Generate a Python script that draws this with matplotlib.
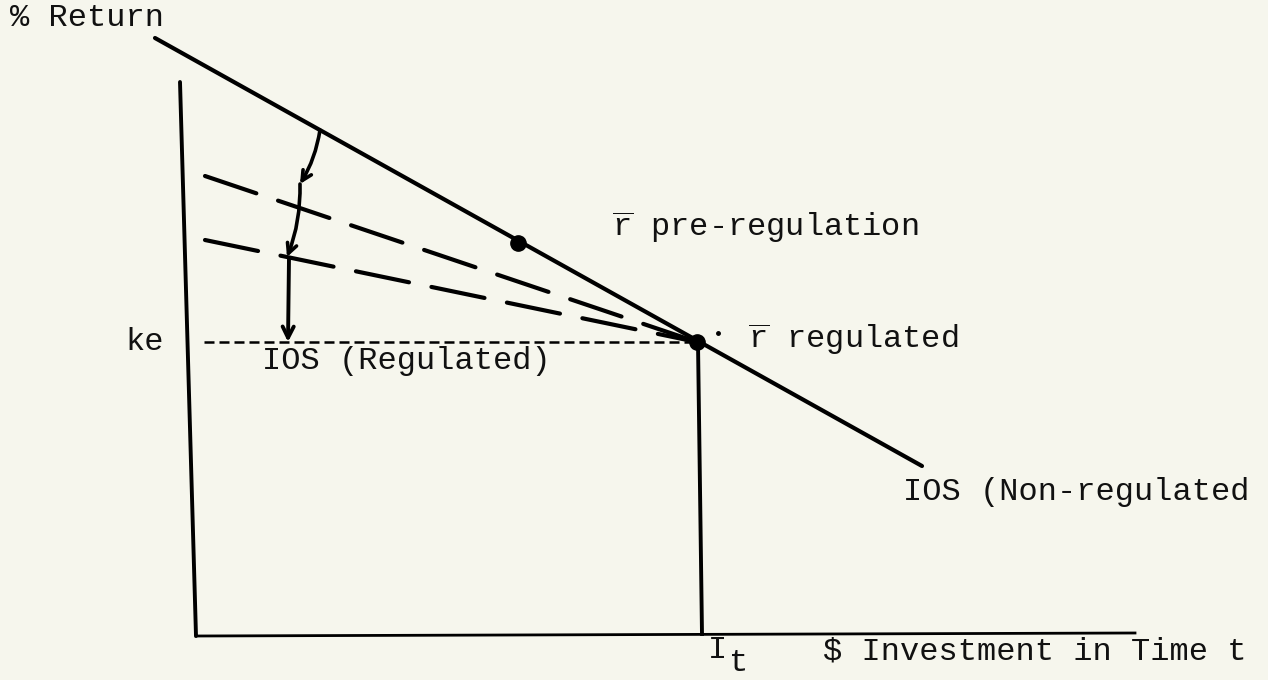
import matplotlib
matplotlib.use("Agg")
import matplotlib.pyplot as plt

plt.rcParams['mathtext.fontset'] = 'custom'
plt.rcParams['mathtext.rm'] = 'Liberation Mono'
plt.rcParams['mathtext.it'] = 'Liberation Mono'
FONT = 'Liberation Mono'

# ---- diagram data (drawing units, y grows downward) ----
y_axis_x = [180, 196]
y_axis_y = [82, 636]
x_axis_x = [196, 1135]
x_axis_y = [636, 633]

ios_nonreg_x = [155, 922]
ios_nonreg_y = [38, 466]

dash_upper_x = [205, 697]
dash_upper_y = [176, 342]
dash_lower_x = [205, 697]
dash_lower_y = [240, 342]

ke_x = [204, 697]
ke_y = [342, 342]

it_x = [698, 702]
it_y = [343, 634]

pre_reg_pt = (518, 243)
reg_pt = (697, 342)
small_dot = (718, 333)

curve_pts = [(320, 130), (300, 184), (287, 257)]
drop_pts = [(289, 258), (288, 342)]

labels = [
    ("% Return", 10, 18),
    (r"$\overline{\mathrm{r}}$ pre-regulation", 612, 227),
    ("ke", 125, 342),
    ("IOS (Regulated)", 262, 361),
    (r"$\overline{\mathrm{r}}$ regulated", 748, 339),
    ("IOS (Non-regulated", 903, 492),
    ("I", 708, 650),
    ("$ Investment in Time t", 823, 651),
]
sub_label = ("t", 729, 663)

fig = plt.figure(figsize=(12.68, 6.80), dpi=100)
bg = '#f6f6ed'
fig.patch.set_facecolor(bg)
ax = fig.add_axes([0, 0, 1, 1])
ax.set_facecolor(bg)
ax.set_xlim(0, 1268)
ax.set_ylim(680, 0)
ax.axis('off')

k = 'black'
ax.plot(y_axis_x, y_axis_y, color=k, lw=2.8, solid_capstyle='round')
ax.plot(x_axis_x, x_axis_y, color=k, lw=2.0)
ax.plot(ios_nonreg_x, ios_nonreg_y, color=k, lw=3.0, solid_capstyle='round')
ax.plot(dash_upper_x, dash_upper_y, color=k, lw=3.0, dashes=(13, 5.5), dash_capstyle='round')
ax.plot(dash_lower_x, dash_lower_y, color=k, lw=3.0, dashes=(13, 5.5), dash_capstyle='round')
ax.plot(ke_x, ke_y, color=k, lw=1.8, dashes=(4, 2))
ax.plot(it_x, it_y, color=k, lw=2.8)

ax.plot(*pre_reg_pt, 'o', color=k, ms=11)
ax.plot(*reg_pt, 'o', color=k, ms=11)
ax.plot(*small_dot, 'o', color=k, ms=2.5)

for a, b in zip(curve_pts[:-1], curve_pts[1:]):
    ax.annotate("", xy=b, xytext=a,
                arrowprops=dict(arrowstyle="->,head_length=0.7,head_width=0.35", color=k, lw=2.6,
                                connectionstyle="arc3,rad=-0.1", shrinkA=0, shrinkB=0))
ax.annotate("", xy=drop_pts[1], xytext=drop_pts[0],
            arrowprops=dict(arrowstyle="->,head_length=0.8,head_width=0.4", color=k, lw=2.8,
                            shrinkA=0, shrinkB=0))

for txt, x, y in labels:
    ax.text(x, y, txt, fontsize=23, family=FONT, ha='left', va='center', color='#111111')
ax.text(sub_label[1], sub_label[2], sub_label[0], fontsize=23, family=FONT,
        ha='left', va='center', color='#111111')

fig.savefig("out.png", dpi=100, facecolor=bg)
